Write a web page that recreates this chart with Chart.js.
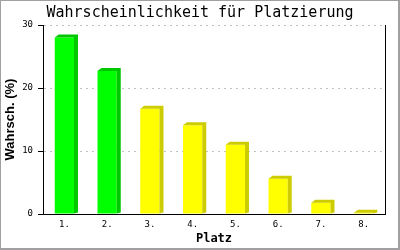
<!DOCTYPE html>
<html>
<head>
<meta charset="utf-8">
<script src="https://cdn.jsdelivr.net/npm/chart.js@4/dist/chart.umd.min.js"></script>
<style>
  html, body { margin:0; padding:0; background:#fff; }
  #wrap { position:absolute; left:0; top:0; width:400px; height:250px; }
</style>
</head>
<body>
<div id="wrap"><canvas id="grafico"></canvas></div>
<script>
// Datos
const platz = ["1.","2.","3.","4.","5.","6.","7.","8."];
const wahrsch = [28.0, 22.7, 16.7, 14.1, 11.0, 5.6, 1.8, 0.2];
const yTicks = [0, 10, 20, 30];

// colores: los dos primeros verdes, resto amarillo
const frente = wahrsch.map((_,i) => i < 2 ? "#00ff00" : "#ffff00");
const lado = wahrsch.map((_,i) => i < 2 ? "#00c800" : "#cccc00");

const mono = "'DejaVu Sans Mono', monospace";

// efecto 3D: cara lateral y superior de cada barra
const barras3D = {
    id: "barras3D",
    afterDatasetsDraw(chart){
        const ctx = chart.ctx;
        const meta = chart.getDatasetMeta(0);
        const dx = 4, dy = 3;
        meta.data.forEach((bar, i) => {
            const w = bar.width;
            const x0 = bar.x - w/2, x1 = bar.x + w/2;
            const top = bar.y, base = bar.base;
            ctx.save();
            ctx.fillStyle = lado[i];
            ctx.beginPath();
            ctx.moveTo(x0, top);
            ctx.lineTo(x0 + dx, top - dy);
            ctx.lineTo(x1 + dx, top - dy);
            ctx.lineTo(x1 + dx, base - 1);
            ctx.lineTo(x1, base);
            ctx.lineTo(x1, top);
            ctx.closePath();
            ctx.fill();
            ctx.restore();
        });
    }
};

// borde gris del dibujo
const marco = {
    id: "marco",
    afterDraw(chart){
        const ctx = chart.ctx;
        ctx.save();
        ctx.fillStyle = "#a0a0a0";
        ctx.fillRect(0, 0, chart.width, 1);
        ctx.fillRect(0, 0, 1, chart.height);
        ctx.fillRect(chart.width - 2, 0, 2, chart.height);
        ctx.fillRect(0, chart.height - 2, chart.width, 2);
        ctx.restore();
    }
};

new Chart(document.getElementById("grafico").getContext("2d"), {
    type: "bar",
    data: {
        labels: platz,
        datasets: [{
            label: "Wahrscheinlichkeit",
            data: wahrsch,
            backgroundColor: frente,
            borderWidth: 0,
            categoryPercentage: 1.0,
            barPercentage: 0.45
        }]
    },
    options: {
        responsive: true,
        maintainAspectRatio: false,
        animation: false,
        layout: { padding: 0 },
        plugins: {
            legend: { display: false },
            tooltip: { enabled: false },
            title: {
                display: true,
                text: "Wahrscheinlichkeit für Platzierung",
                color: "#000",
                font: { family: mono, size: 15, weight: "normal" },
                padding: { top: 4, bottom: 3 }
            }
        },
        scales: {
            x: {
                grid: { display: false, drawTicks: false },
                border: { display: true, color: "#000", width: 1 },
                ticks: { color: "#000", font: { family: mono, size: 9 }, padding: 5 },
                title: {
                    display: true, text: "Platz", color: "#000",
                    font: { family: mono, size: 12, weight: "bold" },
                    padding: { top: 2, bottom: 4 }
                },
                afterFit: s => { s.height = 36; }
            },
            y: {
                min: 0, max: 30,
                afterBuildTicks: s => { s.ticks = yTicks.map(v => ({ value: v })); },
                grid: {
                    color: c => c.tick && c.tick.value === 0 ? "rgba(0,0,0,0)" : "#c0c0c0",
                    tickBorderDash: [],
                    tickColor: "#000",
                    tickLength: 5,
                    drawTicks: true
                },
                border: { display: true, color: "#000", width: 1, dash: [2, 4] },
                ticks: { color: "#000", font: { family: mono, size: 9 }, padding: 5 },
                title: {
                    display: true, text: "Wahrsch. (%)", color: "#000",
                    font: { family: "'Liberation Sans', Arial, sans-serif", size: 13, weight: "bold" },
                    padding: { top: 3, bottom: 0 }
                },
                afterFit: s => { s.width = 43; }
            },
            // eje derecho vacio: solo la linea del marco
            y2: {
                position: "right",
                min: 0, max: 30,
                grid: { display: false, drawTicks: false },
                border: { display: true, color: "#000", width: 1 },
                ticks: { display: false },
                afterFit: s => { s.width = 15; }
            }
        }
    },
    plugins: [barras3D, marco]
});
</script>
</body>
</html>
